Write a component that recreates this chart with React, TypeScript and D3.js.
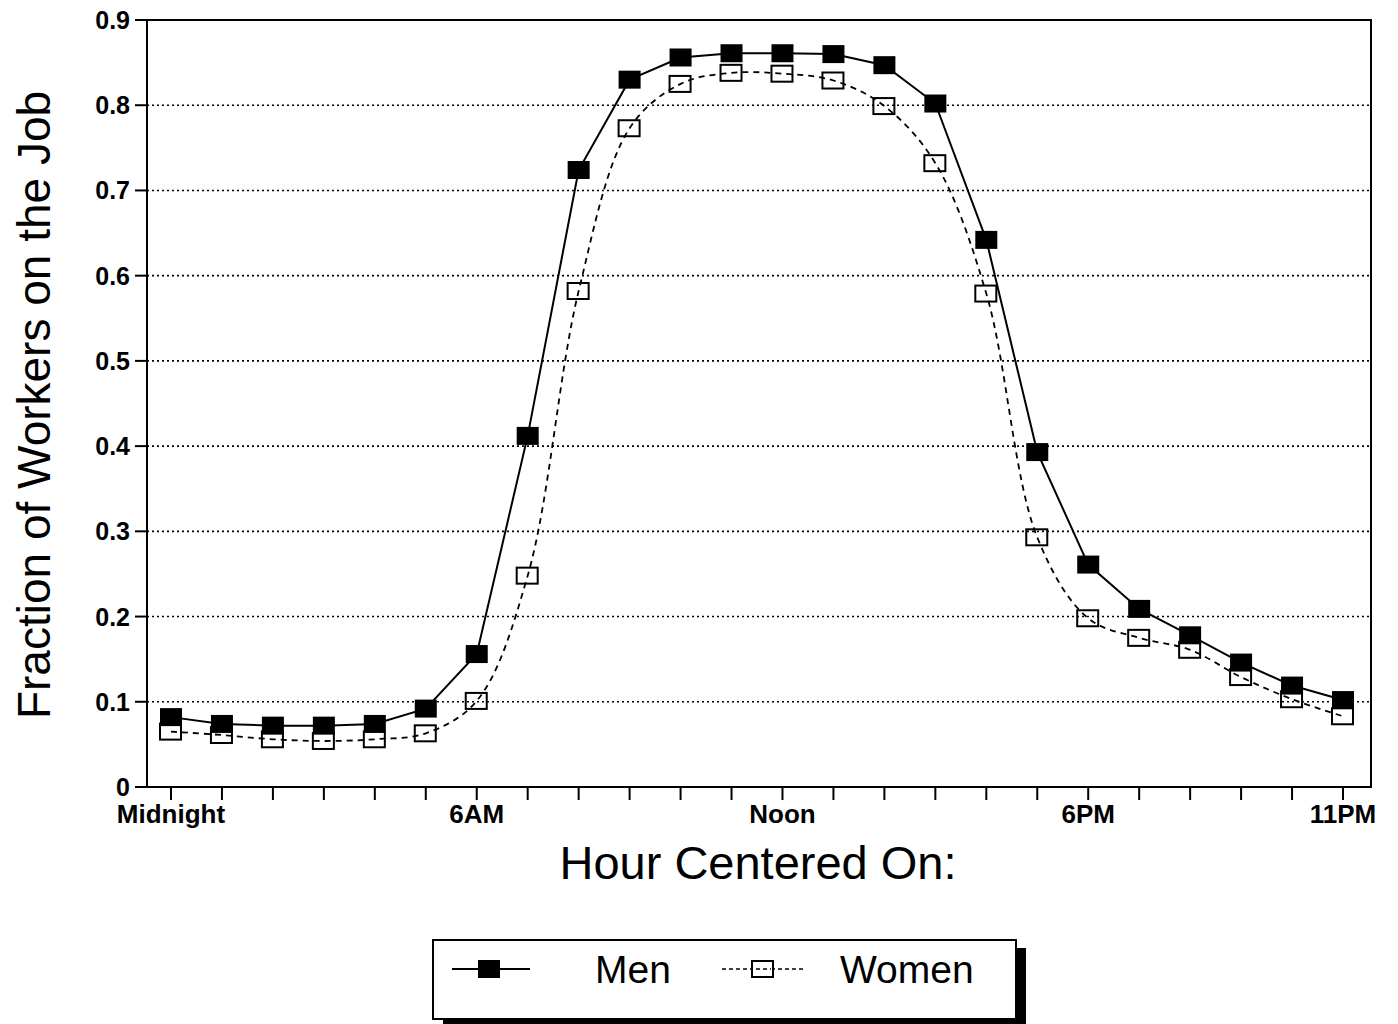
import React from "react";
import * as d3 from "d3";

const hours: number[] = d3.range(24);
const tickLabels: { hour: number; label: string }[] = [
  { hour: 0, label: "Midnight" },
  { hour: 6, label: "6AM" },
  { hour: 12, label: "Noon" },
  { hour: 18, label: "6PM" },
  { hour: 23, label: "11PM" },
];
const yTicks: number[] = [0, 0.1, 0.2, 0.3, 0.4, 0.5, 0.6, 0.7, 0.8, 0.9];

const menValues: number[] = [
  0.082, 0.074, 0.072, 0.072, 0.074, 0.092, 0.156, 0.412, 0.724, 0.83, 0.856, 0.861,
  0.861, 0.86, 0.847, 0.802, 0.642, 0.393, 0.261, 0.209, 0.178, 0.146, 0.119, 0.102,
];
const womenValues: number[] = [
  0.065, 0.061, 0.056, 0.054, 0.056, 0.063, 0.101, 0.248, 0.582, 0.773, 0.825, 0.838,
  0.837, 0.829, 0.799, 0.732, 0.579, 0.293, 0.198, 0.175, 0.161, 0.129, 0.103, 0.083,
];

const FONT = "'Liberation Sans', Arial, Helvetica, sans-serif";

export default function App() {
  const W = 1398;
  const H = 1024;
  const left = 147;
  const right = 1371;
  const top = 20;
  const bottom = 787;

  const x = d3.scaleLinear().domain([0, 23]).range([171, 1343]);
  const y = d3.scaleLinear().domain([0, 0.9]).range([bottom, top]);

  const menLine = d3
    .line<number>()
    .x((_, i) => x(hours[i]))
    .y((d) => y(d))
    .curve(d3.curveLinear);
  const womenLine = d3
    .line<number>()
    .x((_, i) => x(hours[i]))
    .y((d) => y(d))
    .curve(d3.curveCatmullRom.alpha(0.5));

  const mw = 22;
  const mh = 18;

  const lg = { x: 433, y: 940, w: 583, h: 79 };
  const legY = 969;

  return (
    <svg
      width={W}
      height={H}
      style={{ position: "absolute", left: 0, top: 0, background: "#fff" }}
      fontFamily={FONT}
    >
      <rect x={0} y={0} width={W} height={H} fill="#fff" />
      {yTicks
        .filter((t) => t > 0 && t < 0.9)
        .map((t) => (
          <line
            key={"g" + t}
            x1={left}
            x2={right}
            y1={y(t)}
            y2={y(t)}
            stroke="#000"
            strokeWidth={1.6}
            strokeDasharray="2 3"
          />
        ))}
      <rect
        x={left}
        y={top}
        width={right - left}
        height={bottom - top}
        fill="none"
        stroke="#000"
        strokeWidth={2}
      />
      {yTicks.map((t) => (
        <g key={"y" + t}>
          <line x1={135} x2={left} y1={y(t)} y2={y(t)} stroke="#000" strokeWidth={2} />
          <text
            x={130}
            y={y(t)}
            dy="0.36em"
            textAnchor="end"
            fontSize={25}
            fontWeight="bold"
          >
            {t === 0 ? "0" : t.toFixed(1)}
          </text>
        </g>
      ))}
      {hours.map((h) => (
        <line
          key={"x" + h}
          x1={x(h)}
          x2={x(h)}
          y1={bottom}
          y2={bottom + 13}
          stroke="#000"
          strokeWidth={2}
        />
      ))}
      {tickLabels.map((t) => (
        <text
          key={"xl" + t.hour}
          x={x(t.hour)}
          y={823}
          textAnchor="middle"
          fontSize={26}
          fontWeight="bold"
        >
          {t.label}
        </text>
      ))}
      <text x={758} y={879} textAnchor="middle" fontSize={47}>
        Hour Centered On:
      </text>
      <text
        transform={`translate(50,405) rotate(-90)`}
        textAnchor="middle"
        fontSize={46}
      >
        Fraction of Workers on the Job
      </text>
      <path d={womenLine(womenValues) || ""} fill="none" stroke="#000" strokeWidth={1.8} strokeDasharray="6 5" />
      <path d={menLine(menValues) || ""} fill="none" stroke="#000" strokeWidth={2} />
      {menValues.map((v, i) => (
        <rect
          key={"m" + i}
          x={x(hours[i]) - mw / 2}
          y={y(v) - mh / 2}
          width={mw}
          height={mh}
          fill="#000"
        />
      ))}
      {womenValues.map((v, i) => (
        <rect
          key={"w" + i}
          x={x(hours[i]) - mw / 2}
          y={y(v) - mh / 2 + 1}
          width={mw - 1}
          height={mh - 2}
          fill="none"
          stroke="#000"
          strokeWidth={2}
        />
      ))}
      <rect x={lg.x + 10} y={lg.y + 8} width={lg.w} height={lg.h} fill="#000" />
      <rect x={lg.x} y={lg.y} width={lg.w} height={lg.h} fill="#fff" stroke="#000" strokeWidth={2} />
      <line x1={452} x2={530} y1={legY} y2={legY} stroke="#000" strokeWidth={2} />
      <rect x={489 - mw / 2} y={legY - mh / 2} width={mw} height={mh} fill="#000" />
      <text x={595} y={legY + 14} fontSize={39}>
        Men
      </text>
      <line x1={722} x2={803} y1={legY} y2={legY} stroke="#000" strokeWidth={1.5} strokeDasharray="4 3" />
      <rect x={763 - mw / 2} y={legY - mh / 2 + 1} width={mw - 1} height={mh - 2} fill="#fff" stroke="#000" strokeWidth={2} />
      <line x1={756} x2={771} y1={legY} y2={legY} stroke="#000" strokeWidth={1.5} strokeDasharray="4 3" />
      <text x={840} y={legY + 14} fontSize={39}>
        Women
      </text>
    </svg>
  );
}
